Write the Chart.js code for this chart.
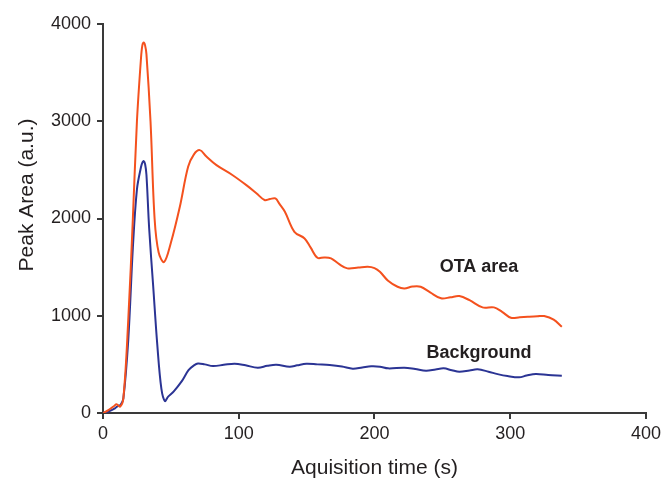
<!DOCTYPE html>
<html>
<head>
<meta charset="utf-8">
<script src="https://cdn.jsdelivr.net/npm/chart.js@4"></script>
<style>
  body { margin: 0; background: #fff; }
  #wrap { width: 665px; height: 483px; position: relative; }
</style>
</head>
<body>
<div id="wrap"><canvas id="chart"></canvas></div>
<script>
// time (s) and peak area values
const otaTime = [0, 4, 8, 10, 12.5, 15, 18.6, 22, 25, 28, 29, 30, 31, 32, 35, 38, 41, 45, 50, 56.6, 62.7, 67, 71.3, 76, 83.6, 95, 105.6, 113, 119, 123, 127, 130, 134, 141, 148.5, 153, 158, 163, 168, 174, 180, 188, 195, 200, 204, 210, 217, 222, 228, 234, 241, 249, 256, 262.5, 270, 279.6, 288, 294, 300.5, 307, 313, 320, 325, 332, 338];
const otaArea = [0, 30, 70, 90, 65, 150, 955, 2000, 3000, 3650, 3780, 3810, 3780, 3690, 3000, 2000, 1650, 1552, 1750, 2120, 2531, 2660, 2703, 2640, 2549, 2450, 2343, 2260, 2190, 2200, 2206, 2150, 2069, 1863, 1795, 1700, 1596, 1600, 1590, 1530, 1487, 1495, 1504, 1490, 1452, 1360, 1298, 1281, 1300, 1298, 1240, 1179, 1190, 1202, 1160, 1086, 1086, 1040, 979, 985, 990, 995, 997, 960, 887];

const bgTime = [0, 4, 8.8, 11, 13, 15, 18.6, 22, 25, 28, 29, 30, 31, 32, 34, 37, 40, 43, 45.6, 48, 52, 57.8, 63, 67, 70, 75, 81, 89, 97, 105, 114, 121, 127.7, 137.5, 143, 149.8, 158, 167, 176, 184, 191, 197.6, 204, 210, 222, 230, 238, 245, 251, 257, 262.5, 270, 276, 284, 290.7, 298, 306.6, 312, 318.9, 328, 338];
const bgArea = [0, 15, 48, 72, 85, 150, 750, 1700, 2300, 2530, 2575, 2590, 2560, 2450, 1900, 1298, 700, 250, 123, 168, 220, 322, 440, 490, 510, 500, 483, 495, 507, 490, 466, 485, 496, 476, 490, 507, 500, 493, 478, 455, 468, 480, 476, 459, 466, 452, 435, 448, 459, 440, 425, 438, 449, 425, 400, 380, 367, 385, 401, 390, 383];

const xTicks = [0, 100, 200, 300, 400];
const yTicks = [0, 1000, 2000, 3000, 4000];

const curveLabels = ['OTA area', 'Background'];
const labelTime = [277, 277];
const labelArea = [1500, 617];

const yTitle = 'Peak Area (a.u.)';

function toPoints(xs, ys) {
  return xs.map((x, i) => ({ x: x, y: ys[i] }));
}

const inkColor = '#231f20';
const axisColor = '#3a3a3a';
const fontFamily = '"Liberation Sans", Arial, sans-serif';

const textPlugin = {
  id: 'curveLabels',
  afterDatasetsDraw(chart) {
    const ctx = chart.ctx;
    const xs = chart.scales.x, ys = chart.scales.y;
    ctx.save();
    ctx.font = 'bold 18px ' + fontFamily;
    ctx.fillStyle = inkColor;
    ctx.textAlign = 'center';
    ctx.textBaseline = 'middle';
    curveLabels.forEach((txt, i) => {
      ctx.fillText(txt, xs.getPixelForValue(labelTime[i]), ys.getPixelForValue(labelArea[i]));
    });
    // y axis title, sits a little above the axis middle in the original
    ctx.font = '21px ' + fontFamily;
    ctx.translate(27, 195);
    ctx.rotate(-Math.PI / 2);
    ctx.fillText(yTitle, 0, 0);
    ctx.restore();
  }
};

const tickFont = { family: fontFamily, size: 18 };
const titleFont = { family: fontFamily, size: 21 };

new Chart(document.getElementById('chart'), {
  type: 'line',
  data: {
    datasets: [
      {
        label: 'OTA area',
        data: toPoints(otaTime, otaArea),
        borderColor: '#f4511e',
        borderWidth: 2,
        pointRadius: 0,
        tension: 0.35,
        fill: false,
      },
      {
        label: 'Background',
        data: toPoints(bgTime, bgArea),
        borderColor: '#2b3494',
        borderWidth: 2,
        pointRadius: 0,
        tension: 0.35,
        fill: false,
      },
    ],
  },
  options: {
    responsive: true,
    maintainAspectRatio: false,
    animation: false,
    layout: { padding: { top: 24, right: 18, left: 0, bottom: 0 } },
    plugins: {
      legend: { display: false },
      tooltip: { enabled: false },
    },
    scales: {
      x: {
        type: 'linear',
        min: 0,
        max: 400,
        afterBuildTicks: (s) => { s.ticks = xTicks.map(v => ({ value: v })); },
        afterFit: (s) => { s.height = 70; },
        border: { color: axisColor, width: 2 },
        grid: { drawOnChartArea: false, drawTicks: true, tickLength: 6, color: axisColor, lineWidth: 2 },
        ticks: { color: inkColor, font: tickFont, padding: 4, maxRotation: 0, callback: (v) => String(v) },
        title: { display: true, text: 'Aquisition time (s)', color: inkColor, font: titleFont, padding: { top: 0, bottom: 2 } },
      },
      y: {
        type: 'linear',
        min: 0,
        max: 4000,
        afterBuildTicks: (s) => { s.ticks = yTicks.map(v => ({ value: v })); },
        afterFit: (s) => { s.width = 103; },
        border: { color: axisColor, width: 2 },
        grid: { drawOnChartArea: false, drawTicks: true, tickLength: 6, color: axisColor, lineWidth: 2 },
        ticks: { color: inkColor, font: tickFont, padding: 6, callback: (v) => String(v) },
      },
    },
  },
  plugins: [textPlugin],
});
</script>
</body>
</html>
